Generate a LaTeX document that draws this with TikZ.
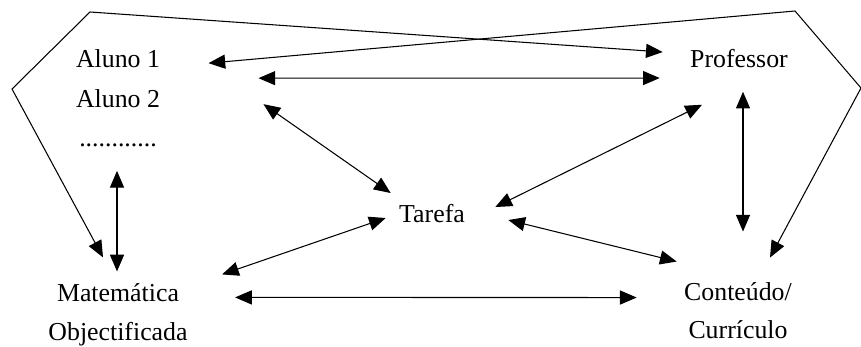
\documentclass[tikz,border=0pt]{standalone}
\usepackage{fontspec}
\setmainfont{Liberation Serif}
\usetikzlibrary{calc}
\usetikzlibrary{arrows.meta}

\begin{document}
\begin{tikzpicture}[x=0.02cm, y=-0.02cm, line width=0.6pt,
    >={Triangle[length=9.5pt, width=8pt]},
    lbl/.style={inner sep=0pt, font=\fontsize{14.7}{22}\selectfont, align=center}]
    \useasboundingbox (0, 0) rectangle (861, 347);
    \node[lbl, anchor=base] (aluno1) at (118, 68) {Aluno 1};
    \node[lbl, anchor=base] (aluno2) at (118, 108) {Aluno 2};
    \node[lbl, anchor=base] (dots) at (118, 147) {............};
    \node[lbl, anchor=base] (prof) at (739, 68) {Professor};
    \node[lbl, anchor=base] (tarefa) at (432, 223) {Tarefa};
    \node[lbl] (mat) at (118, 315) {Matemática\\Objectificada};
    \node[lbl] (cont) at (738, 310.5) {Conteúdo/\\Currículo};
    \coordinate (c1) at (12, 89);
    \coordinate (c2) at (90, 12);
    \coordinate (c3) at (795, 11);
    \coordinate (c4) at (861, 88);
    \draw[<->] ($(mat.north)+(-15, -26)$) -- (c1) -- (c2) -- ($(prof.west)+(-27, -7)$);
    \draw[<->] ($(aluno1.east)+(48, 4)$) -- (c3) -- (c4) -- ($(cont.north)+(32, -24)$);
    \draw[<->] ($(aluno1.east)+(98, 19)$) -- ($(prof.west)+(-30, 19)$);
    \draw[<->] ($(aluno2.east)+(103, 5)$) -- ($(tarefa.west)+(-8, -21)$);
    \draw[<->] ($(dots.south)+(-1, 23)$) -- ($(mat.north)+(-1, -12)$);
    \draw[<->] ($(tarefa.west)+(-13, 4)$) -- ($(mat.north east)+(34, -9)$);
    \draw[<->] ($(mat.north east)+(47, 14)$) -- ($(cont.north west)+(-47, 16)$);
    \draw[<->] ($(prof.south)+(-37, 36)$) -- ($(tarefa.east)+(30, -7)$);
    \draw[<->] ($(tarefa.east)+(43, 6)$) -- ($(cont.north west)+(-7, -20)$);
    \draw[<->] ($(prof.south)+(4, 23)$) -- ($(cont.north)+(5, -50)$);
\end{tikzpicture}
\end{document}
